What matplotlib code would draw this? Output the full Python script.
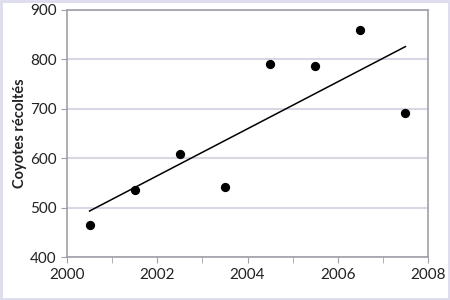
import matplotlib

matplotlib.use("Agg")
import matplotlib.pyplot as plt
import numpy as np
from matplotlib.patches import Rectangle

plt.rcParams["font.family"] = ["Lato", "DejaVu Sans"]

years = [2000.5, 2001.5, 2002.5, 2003.5, 2004.5, 2005.5, 2006.5, 2007.5]
coyotes = [464, 535, 609, 541, 791, 786, 859, 691]

x = np.array(years)
y = np.array(coyotes)
slope, intercept = np.polyfit(x, y, 1)

fig = plt.figure(figsize=(4.5, 3), dpi=100)
ax = fig.add_axes([0.149, 0.143, 0.802, 0.824])

ax.grid(axis="y", color="#d8d8e4", linewidth=1.5, zorder=0)
ax.plot(x, slope * x + intercept, color="black", linewidth=1.1, zorder=2)
ax.scatter(x, y, s=32, color="black", zorder=3)

ax.set_xlim(2000, 2008)
ax.set_ylim(400, 900)
ax.set_xticks(np.arange(2000, 2009, 2))
ax.set_xticks(np.arange(2000, 2009, 1), minor=True)
ax.set_yticks(np.arange(400, 901, 100))
for s in ax.spines.values():
    s.set_color("#a0a0a8")
    s.set_linewidth(1.2)
ax.tick_params(which="both", direction="out", color="#a0a0a8", length=4,
               labelsize=11, labelcolor="#222222")
ax.set_ylabel("Coyotes récoltés", fontsize=10.5, fontweight="bold",
              color="#222222", labelpad=2)

fig.patches.append(Rectangle((0.003, 0.004), 0.994, 0.992, transform=fig.transFigure,
                             fill=False, edgecolor="#dcdcee", linewidth=2))

plt.savefig("out.png")
